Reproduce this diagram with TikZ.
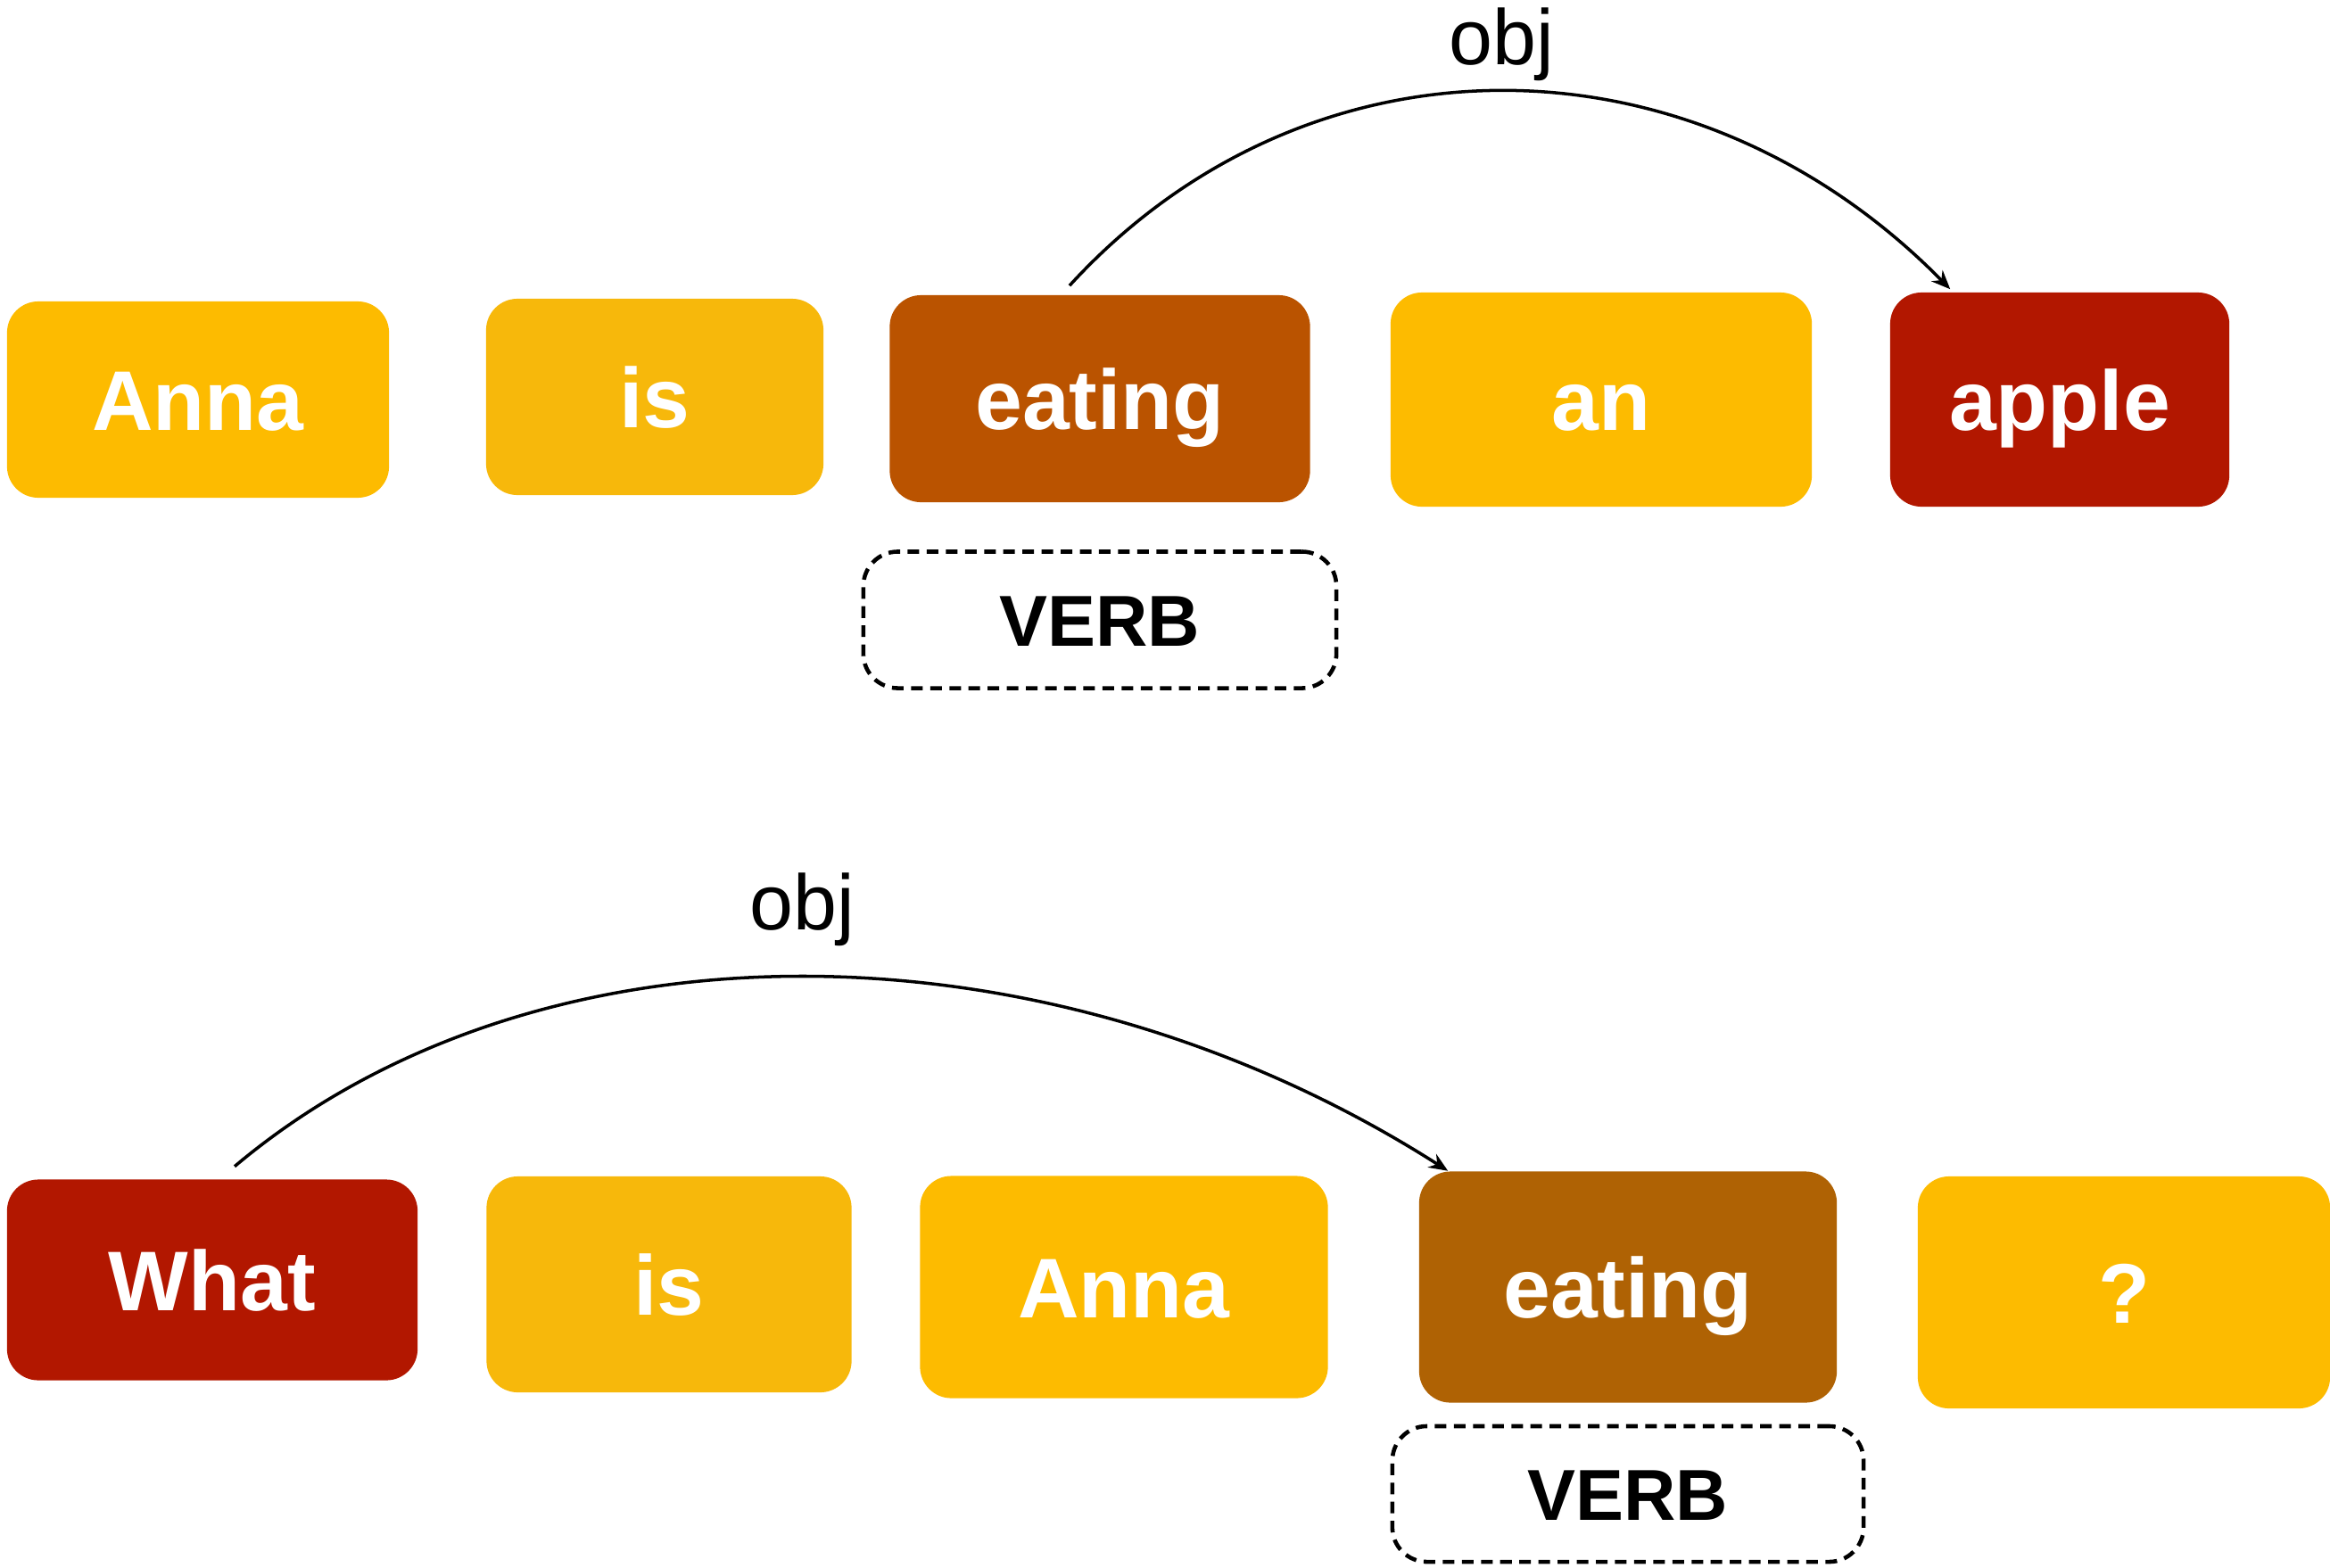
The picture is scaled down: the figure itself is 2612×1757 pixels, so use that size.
\documentclass[tikz,border=0pt]{standalone}
\usepackage{fontspec}
\setmainfont{Liberation Sans}
\usepackage{tikz}
\usetikzlibrary{arrows.meta, positioning}
\definecolor{gold}{HTML}{FDBB00}
\definecolor{goldis}{HTML}{F7B80B}
\definecolor{rust}{HTML}{BA5300}
\definecolor{umber}{HTML}{AF6204}
\definecolor{crimson}{HTML}{B21700}

\begin{document}
\begin{tikzpicture}[
    x=0.01cm, y=-0.01cm,
    >=Stealth,
    word/.style={
        rounded corners=10pt,
        text=white,
        inner sep=0pt,
        text height=19.5pt,
        text depth=0pt,
        font=\fontsize{27}{32}\selectfont\bfseries
    },
    tag/.style={
        draw=black,
        line width=1.3pt,
        dash pattern=on 3.7pt off 2.4pt,
        rounded corners=11pt,
        inner sep=0pt,
        text height=16.5pt,
        text depth=0pt,
        font=\fontsize{23}{28}\selectfont\bfseries
    },
    dep/.style={
        draw=black,
        line width=1pt,
        -{Stealth[length=6pt, width=5pt]}
    },
    rel/.style={
        font=\fontsize{25}{30}\selectfont,
        inner sep=0pt
    }
]
\useasboundingbox (0,0) rectangle (2612,1757);

% Sentence 1
\node[word, fill=gold, minimum width=4.28cm, minimum height=2.20cm] (anna1) at (222,448) {Anna};
\node[word, fill=goldis, minimum width=3.78cm, minimum height=2.20cm] (is1) at (734,445) {is};
\node[word, fill=rust, minimum width=4.71cm, minimum height=2.32cm] (eat1) at (1233,447) {eating};
\node[word, fill=gold, minimum width=4.72cm, minimum height=2.40cm] (an1) at (1795,448) {an};
\node[word, fill=crimson, minimum width=3.80cm, minimum height=2.40cm] (apple1) at (2309,448) {apple};
\node[tag, minimum width=5.30cm, minimum height=1.53cm] (verb1) at (1233,695) {VERB};

\draw[dep] ([xshift=-0.34cm, yshift=0.1cm]eat1.north)
    .. controls +(266,-291) and +(-290,-295) ..
    node[rel, midway, above=0.1cm] (obj1) {obj}
    ([xshift=0.68cm, yshift=0.03cm]apple1.north west);

% Sentence 2
\node[word, fill=crimson, minimum width=4.60cm, minimum height=2.25cm] (what2) at (238,1435) {What};
\node[word, fill=goldis, minimum width=4.09cm, minimum height=2.42cm] (is2) at (750,1440) {is};
\node[word, fill=gold, minimum width=4.57cm, minimum height=2.49cm] (anna2) at (1260,1443) {Anna};
\node[word, fill=umber, minimum width=4.68cm, minimum height=2.59cm] (eat2) at (1825,1443) {eating};
\node[word, fill=gold, minimum width=4.62cm, minimum height=2.60cm] (q2) at (2381,1449) {?};
\node[tag, minimum width=5.28cm, minimum height=1.52cm] (verb2) at (1825,1675) {VERB};

\draw[dep] ([xshift=0.25cm, yshift=0.14cm]what2.north)
    .. controls +(337,-284) and +(-453,-289) ..
    node[rel, midway, above=0.33cm] (obj2) {obj}
    ([xshift=0.33cm]eat2.north west);

\end{tikzpicture}
\end{document}
